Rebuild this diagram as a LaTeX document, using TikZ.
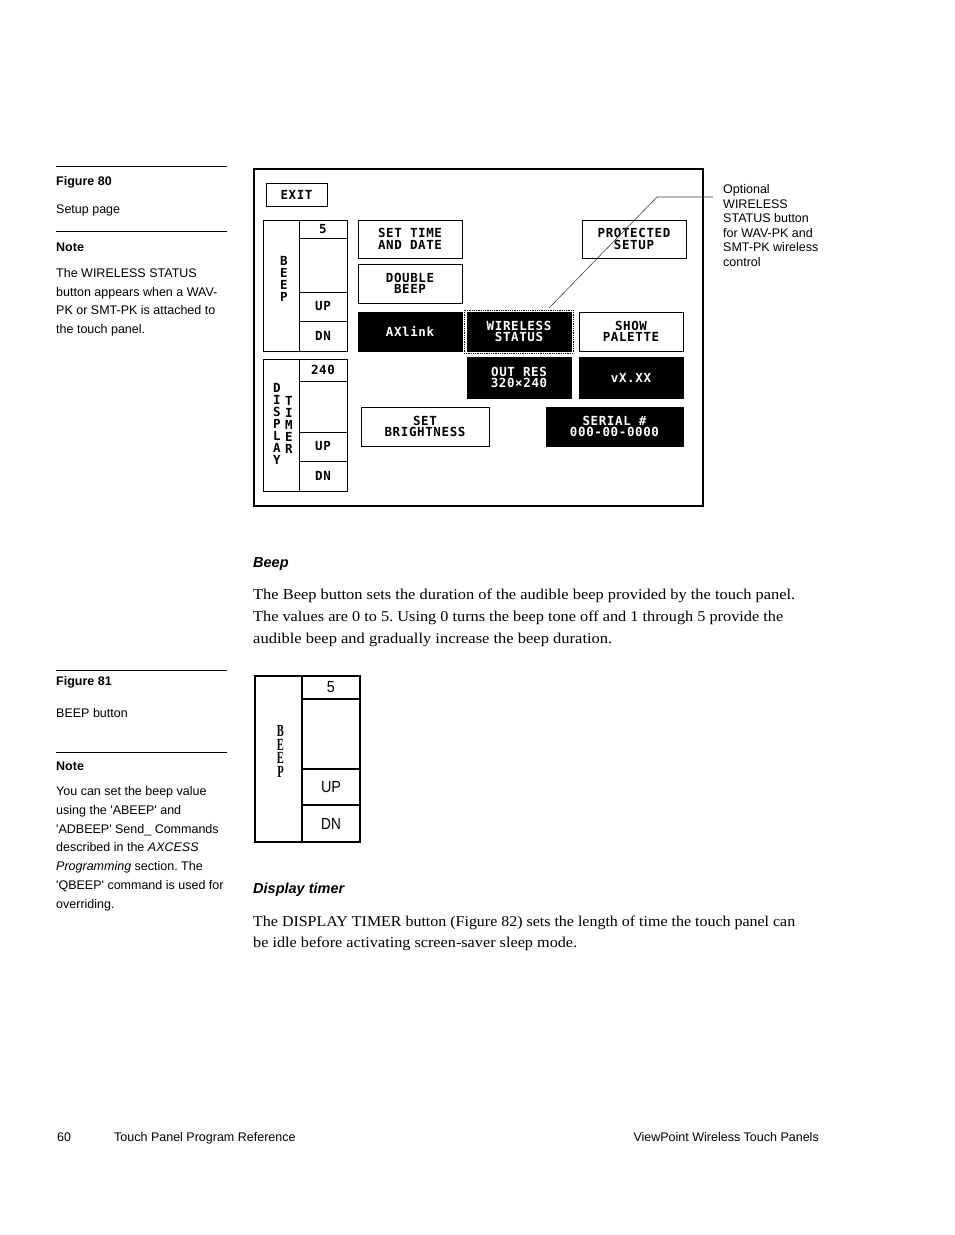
\documentclass[tikz,border=0pt]{standalone}
\usepackage{graphicx}
\usepackage{fontspec}
\setmainfont{Liberation Serif}
\newfontfamily\lsans{Liberation Sans}
\newfontfamily\pfont[LetterSpace=5]{DejaVu Sans Mono}
\newcommand\fitto[2]{\resizebox{#1}{\height}{#2}}
\newcommand\narrow[2]{\scalebox{#1}[1]{#2}}
\frenchspacing
\tikzset{
  side/.style={font=\lsans\fontsize{12.5}{15}\selectfont, anchor=base west, inner sep=0pt},
  sidebold/.style={font=\lsans\bfseries\fontsize{12.5}{15}\selectfont, anchor=base west, inner sep=0pt},
  bodytext/.style={font=\fontsize{15}{18}\selectfont, anchor=base west, inner sep=0pt},
  headtext/.style={font=\lsans\bfseries\itshape\fontsize{14.5}{17}\selectfont, anchor=base west, inner sep=0pt},
  wbtn/.style={draw, line width=0.9pt, fill=white, inner sep=0pt, align=center,
    font=\pfont\bfseries\fontsize{12.5}{11.5}\selectfont, minimum width=104, minimum height=39},
  bbtn/.style={wbtn, fill=black, text=white},
  ptext/.style={inner sep=0pt, align=center, font=\pfont\bfseries\fontsize{12.5}{12}\selectfont},
  ruleline/.style={line width=0.8pt},
  grpline/.style={line width=0.9pt},
  bigline/.style={line width=1.7pt},
  bigtext/.style={inner sep=0pt, font=\lsans\fontsize{16}{18}\selectfont},
  leader/.style={line width=0.6pt, draw=black!75},
}
\begin{document}
\begin{tikzpicture}[x=1pt,y=-1pt]
\useasboundingbox (0,0) rectangle (954,1235);
\fill[white] (0,0) rectangle (954,1235);

% ---------- left column, figure 80 ----------
\draw[ruleline] (56,166.5) -- (227,166.5);
\node[sidebold] (f80) at (56,185.5) {Figure 80};
\node[side] (f80c) at (56,213.5) {Setup page};
\draw[ruleline] (56,231) -- (227,231);
\node[sidebold] (n1h) at (56,251) {Note};
\node[side] (n1a) at (56,277.5) {The WIRELESS STATUS};
\node[side] (n1b) at (56,296) {button appears when a WAV-};
\node[side] (n1c) at (56,314.5) {PK or SMT-PK is attached to};
\node[side] (n1d) at (56,333) {the touch panel.};

% ---------- panel ----------
\draw[line width=1.3pt] (254,169) rectangle (703,506);
\node[wbtn, minimum width=61, minimum height=23] (exit) at (296.5,194.5) {EXIT};

% beep group
\draw[grpline] (263,220) rectangle (347,351);
\draw[grpline] (299,220) -- (299,351);
\draw[grpline] (299,238) -- (347,238);
\draw[grpline] (299,292) -- (347,292);
\draw[grpline] (299,321) -- (347,321);
\node[ptext] (bval) at (323,229) {5};
\node[ptext] (bup) at (323,306.5) {UP};
\node[ptext] (bdn) at (323,336) {DN};
\node[ptext] (blab) at (284,278.5) {B\\E\\E\\P};

% display timer group
\draw[grpline] (263,359) rectangle (347,491);
\draw[grpline] (299,359) -- (299,491);
\draw[grpline] (299,381) -- (347,381);
\draw[grpline] (299,432) -- (347,432);
\draw[grpline] (299,461) -- (347,461);
\node[ptext] (dval) at (323,370) {240};
\node[ptext] (dup) at (323,446.5) {UP};
\node[ptext] (ddn) at (323,476) {DN};
\node[ptext] (dlab1) at (277,424) {D\\I\\S\\P\\L\\A\\Y};
\node[ptext] (dlab2) at (289,425) {T\\I\\M\\E\\R};

% buttons
\node[wbtn, minimum height=38] (settime) at (410,239) {SET TIME\\AND DATE};
\node[wbtn] (double) at (410,283.5) {DOUBLE\\BEEP};
\node[bbtn] (axlink) at (410,331.5) {AXlink};
\node[draw, densely dotted, line width=0.8pt, inner sep=0pt, minimum width=109, minimum height=43] (wlframe) at (518.5,331.5) {};
\node[bbtn] (wireless) at (519,331.5) {WIRELESS\\STATUS};
\node[wbtn] (palette) at (631,331.5) {SHOW\\PALETTE};
\node[bbtn, minimum height=41] (outres) at (519,377.5) {OUT RES\\320×240};
\node[bbtn, minimum height=41] (version) at (631,377.5) {vX.XX};
\node[wbtn, minimum width=128] (bright) at (425,426.5) {SET\\BRIGHTNESS};
\node[bbtn, minimum width=137] (serial) at (614.5,426.5) {SERIAL \#\\000-00-0000};
\node[wbtn, minimum height=38] (protected) at (634,239) {PROTECTED\\SETUP};

% leader line
\coordinate (lstart) at (549,308);
\coordinate (lbend) at (657,197);
\coordinate (lend) at (713,197);
\draw[leader] (lstart) -- (lbend) -- (lend);

% annotation
\node[side] (an1) at (723,193.5) {Optional};
\node[side] (an2) at (723,208) {WIRELESS};
\node[side] (an3) at (723,222.5) {STATUS button};
\node[side] (an4) at (723,237) {for WAV-PK and};
\node[side] (an5) at (723,251.5) {SMT-PK wireless};
\node[side] (an6) at (723,266) {control};

% ---------- Beep section ----------
\node[headtext] (hbeep) at (253,567) {Beep};
\node[bodytext] (bb1) at (253,599) {\fitto{542pt}{The Beep button sets the duration of the audible beep provided by the touch panel.}};
\node[bodytext] (bb2) at (253,621.5) {\fitto{530pt}{The values are 0 to 5. Using 0 turns the beep tone off and 1 through 5 provide the}};
\node[bodytext] (bb3) at (253,643.5) {\fitto{359pt}{audible beep and gradually increase the beep duration.}};

% ---------- left column, figure 81 ----------
\draw[ruleline] (56,670) -- (227,670);
\node[sidebold] (f81) at (56,685.5) {Figure 81};
\node[side] (f81c) at (56,717.5) {BEEP button};
\draw[ruleline] (56,752.5) -- (227,752.5);
\node[sidebold] (n2h) at (56,770) {Note};
\node[side] (n2a) at (56,795.5) {You can set the beep value};
\node[side] (n2b) at (56,814.3) {using the 'ABEEP' and};
\node[side] (n2c) at (56,833.1) {'ADBEEP' Send\_ Commands};
\node[side] (n2d) at (56,851.9) {described in the \textit{AXCESS}};
\node[side] (n2e) at (56,870.7) {\textit{Programming} section. The};
\node[side] (n2f) at (56,889.5) {'QBEEP' command is used for};
\node[side] (n2g) at (56,908.3) {overriding.};

% ---------- figure 81: beep button ----------
\draw[bigline] (255,676) rectangle (360,842);
\draw[bigline] (302,676) -- (302,842);
\draw[bigline] (302,699) -- (360,699);
\draw[bigline] (302,769) -- (360,769);
\draw[bigline] (302,805) -- (360,805);
\node[bigtext] (fbval) at (331,687.5) {\narrow{0.9}{5}};
\node[bigtext] (fbup) at (331,787) {\narrow{0.9}{UP}};
\node[bigtext] (fbdn) at (331,823.5) {\narrow{0.85}{DN}};
\node[inner sep=0pt, align=center, font=\bfseries\fontsize{17}{13.5}\selectfont] (fblab) at (280.5,751.5) {\narrow{0.62}{B}\\\narrow{0.62}{E}\\\narrow{0.62}{E}\\\narrow{0.62}{P}};

% ---------- Display timer section ----------
\node[headtext] (hdisp) at (253,893) {Display timer};
\node[bodytext] (db1) at (253,926) {\fitto{542pt}{The DISPLAY TIMER button (Figure 82) sets the length of time the touch panel can}};
\node[bodytext] (db2) at (253,947.5) {\fitto{324pt}{be idle before activating screen-saver sleep mode.}};

% ---------- footer ----------
\node[side] (pg) at (57,1141.5) {60};
\node[side] (ftl) at (114,1141.5) {Touch Panel Program Reference};
\node[side, anchor=base east] (ftr) at (819,1141.5) {ViewPoint Wireless Touch Panels};
\end{tikzpicture}
\end{document}
